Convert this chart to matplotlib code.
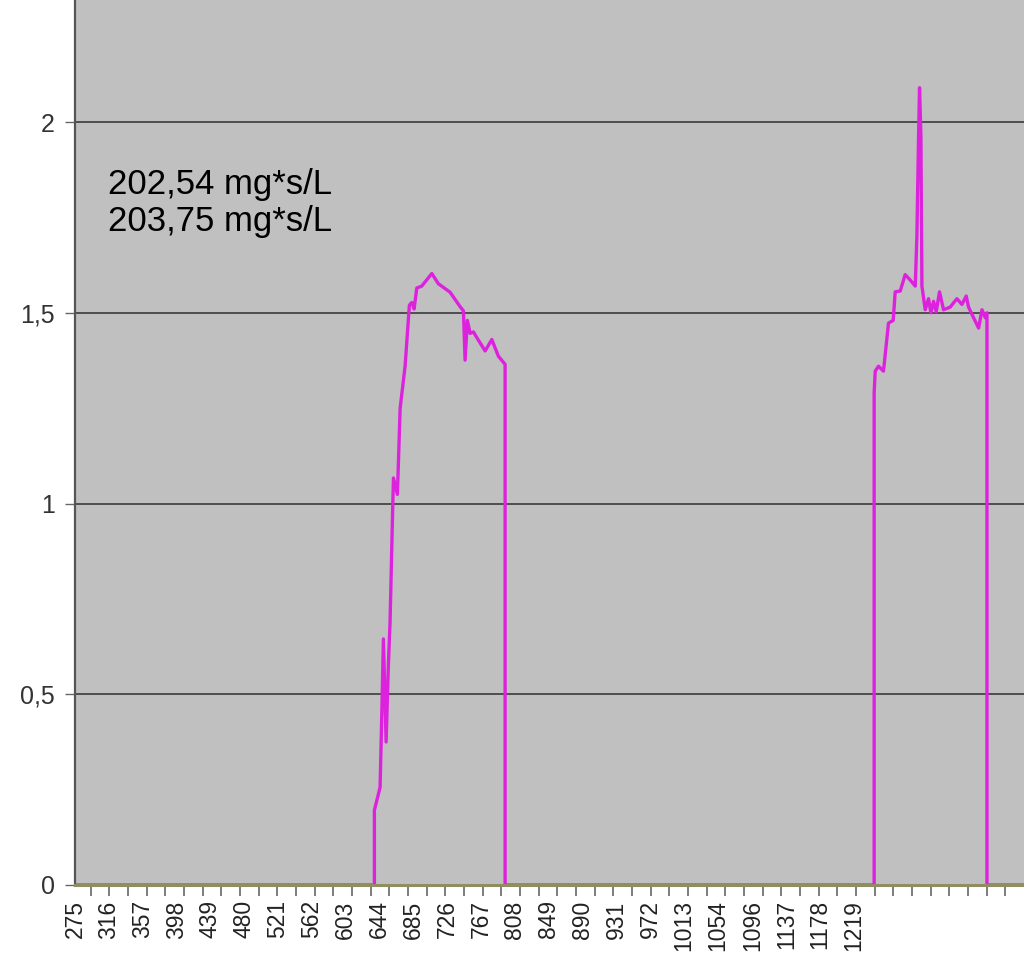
import numpy as np
import matplotlib
matplotlib.use("Agg")
import matplotlib.pyplot as plt
from matplotlib.ticker import FixedLocator, MultipleLocator

plt.rcParams["font.family"] = ["Liberation Sans", "DejaVu Sans"]

# time axis (s) and concentration trace
time_s = [275, 637.8, 637.8, 644.7, 646.8, 648.7, 652.0, 654.8, 656.8, 660.1, 660.9,
          665.7, 669.0, 675.0, 680.2, 683.1, 685.9, 689.2, 695.2, 707.4, 715.4,
          729.5, 741.7, 745.7, 747.7, 750.5, 753.8, 757.8, 761.9, 772.0, 780.1,
          788.1, 796.2, 796.2,
          1243.4, 1243.4, 1244.7, 1248.7, 1254.7, 1260.8, 1266.5, 1268.9, 1275.0,
          1281.0, 1287.1, 1293.2, 1295.2, 1297.2, 1298.4, 1300.1, 1301.3, 1305.3,
          1309.3, 1312.2, 1315.4, 1318.6, 1322.6, 1327.5, 1335.6, 1343.7, 1349.8,
          1355.0, 1357.8, 1363.9, 1370.0, 1374.1, 1378.1, 1380.1, 1380.1, 1425]
conc = [0, 0, 0.196, 0.256, 0.45, 0.645, 0.375, 0.58, 0.69, 1.0, 1.067,
        1.024, 1.25, 1.36, 1.52, 1.527, 1.51, 1.565, 1.57, 1.603, 1.576,
        1.554, 1.516, 1.505, 1.376, 1.48, 1.446, 1.45, 1.435, 1.40, 1.43,
        1.386, 1.365, 0,
        0, 1.29, 1.347, 1.36, 1.347, 1.473, 1.48, 1.555, 1.557,
        1.60, 1.586, 1.57, 1.70, 1.96, 2.09, 1.96, 1.57, 1.508,
        1.537, 1.50, 1.53, 1.503, 1.555, 1.508, 1.515, 1.537, 1.522,
        1.544, 1.515, 1.487, 1.46, 1.508, 1.487, 1.50, 0, 0]

x_labels = [275, 316, 357, 398, 439, 480, 521, 562, 603, 644, 685, 726, 767,
            808, 849, 890, 931, 972, 1013, 1054, 1096, 1137, 1178, 1219]
y_ticks = [0, 0.5, 1, 1.5, 2]
y_ticklabels = ["0", "0,5", "1", "1,5", "2"]
area_lines = ["202,54 mg*s/L", "203,75 mg*s/L"]

fig = plt.figure(figsize=(10.24, 9.74), dpi=100)
ax = fig.add_axes([75 / 1024, 89 / 974, 949 / 1024, 885 / 974])
ax.set_facecolor("#c0c0c0")

ax.set_xlim(275, 1425)
ax.set_ylim(0, 2.32)

for y in y_ticks[1:]:
    ax.axhline(y, color="#454545", linewidth=1.3, zorder=1)

ax.plot(time_s, conc, color="#dd22dd", linewidth=2.4, zorder=3,
        solid_joinstyle="round")
ax.axhline(0, color="#8f8d62", linewidth=2.2, zorder=4, clip_on=False)

ax.text(0.035, 0.810, "\n".join(area_lines), transform=ax.transAxes,
        fontsize=25, color="black", va="top", ha="left", linespacing=1.14)

# axes styling
for side in ["top", "right", "bottom"]:
    ax.spines[side].set_visible(False)
ax.spines["left"].set_color("#555555")
ax.spines["left"].set_linewidth(1.6)

ax.set_yticks(y_ticks)
ax.set_yticklabels(y_ticklabels)
ax.tick_params(axis="y", length=7.5, width=1.0, color="#666666", pad=7,
               labelsize=18, labelcolor="#333333")

ax.xaxis.set_major_locator(FixedLocator(x_labels))
ax.set_xticklabels([str(v) for v in x_labels], rotation=90, va="top", ha="center")
ax.xaxis.set_minor_locator(MultipleLocator(22.62))
ax.tick_params(axis="x", which="major", length=0, pad=11, labelsize=16.5,
               labelcolor="#222222")
ax.tick_params(axis="x", which="minor", length=8, width=1.2, color="#666666",
               direction="out")

fig.savefig("out.png", dpi=100, facecolor="white")
